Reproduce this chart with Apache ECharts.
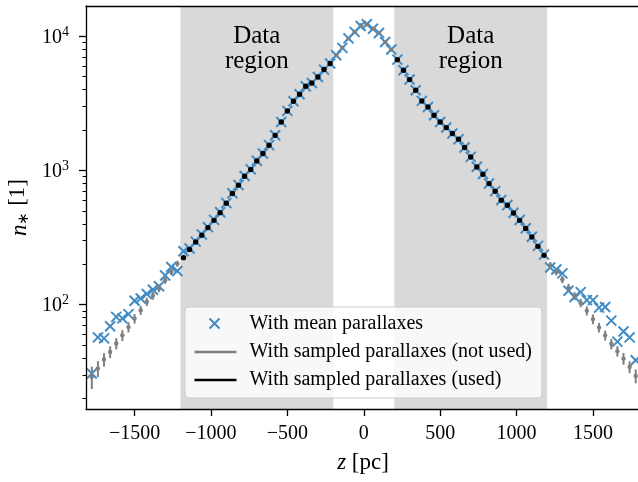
<!DOCTYPE html>
<html><head><meta charset="utf-8">
<script src="https://cdn.jsdelivr.net/npm/echarts@6/dist/echarts.min.js"></script>
<style>html,body{margin:0;padding:0;background:#fff}#c{width:638px;height:482px}</style>
</head><body><div id="c"></div>
<script>
// bin centres z [pc]
const zCenters = [
-1780,-1740,-1700,-1660,-1620,-1580,-1540,-1500,-1460,-1420,-1380,-1340,-1300,-1260,-1220,
-1180,-1140,-1100,-1060,-1020,-980,-940,-900,-860,-820,-780,-740,-700,-660,-620,
-580,-540,-500,-460,-420,-380,-340,-300,-260,-220,-180,-140,-100,-60,-20,
20,60,100,140,180,220,260,300,340,380,420,460,500,540,580,
620,660,700,740,780,820,860,900,940,980,1020,1060,1100,1140,1180,
1220,1260,1300,1340,1380,1420,1460,1500,1540,1580,1620,1660,1700,1740,1780];
// counts with mean parallaxes (crosses)
const meanCounts = [
30.7,57,56,69,81,79,85,107,111,120,129,137,165,191,178,
250,262,295,333,378,428,488,572,676,780,910,1020,1180,1340,1545,
1830,2300,2780,3280,3700,4245,4490,4980,5650,6270,7220,8200,9650,10800,11950,
12300,11400,10600,9080,7970,6700,5590,4760,3965,3300,2975,2580,2300,2090,1886,
1710,1485,1263,1065,940,800,702,602,553,484,427,371,321,274,236,
189,183,171,127,114,124,108,108,95,96,76,53,63,57,38.5];
// counts with sampled parallaxes
const sampledCounts = [
29,33.4,39,44.4,51.3,59,68,78.7,90.8,105,117,132,152,175,202,
224,258,293,329,375,425,485,570,673,777,906,1016,1178,1337,1542,
1828,2297,2775,3279,3698,4240,4488,4978,5652,6266,7218,8236,9613,10770,12080,
12280,11410,10580,9075,7960,6700,5580,4757,3960,3297,2972,2577,2298,2088,1884,
1708,1482,1261,1062,937,798,700,600,551,482,425,369,319,272,233,
197,175,154,134,116,103,90,78,67.5,59,51,45,39.6,34.3,29.4];
// uncertainty of sampled counts
const sampledErr = [
5.5,4.5,4.5,4.5,5,5.5,6,6.5,7,7.5,8,8.5,9,10,10.5,
7,7,8,8,9,10,11,12,13,14,15,16,18,19,21,
23,25,28,30,32,35,37,39,42,44,48,52,57,61,65,
65,62,58,52,47,43,39,36,33,30,28,26,24,22,20,
18,16,15,13,12,11,10,9,8.5,8,7.5,7,6.5,6,6,
11,10,9.5,9,8,7.5,7,6.5,5.5,5,4.5,4,4,3.5,3.5];
const dataRegions = [[-1200,-200],[200,1200]];
const xTicks = [-1500,-1000,-500,0,500,1000,1500];
const yDecades = [2,3,4];
const yMinorValues = [20,30,40,50,60,70,80,90,200,300,400,500,600,700,800,900,2000,3000,4000,5000,6000,7000,8000,9000];

const BLUE = '#428cc6', GRAY = '#808080', BLACK = '#000000';
const FONT = '"Liberation Serif","Times New Roman",serif';
const L = Math.log10;
const inRegion = z => dataRegions.some(r => z > r[0] && z < r[1]);

const crossData = zCenters.map((z,i) => [z, L(meanCounts[i])]);
const usedData = [], unusedData = [];
zCenters.forEach((z,i) => {
  const v = sampledCounts[i], e = sampledErr[i];
  const row = [z, L(v), L(v - e), L(v + e)];
  (inRegion(z) ? usedData : unusedData).push(row);
});

function errRender(color, r) {
  return function(params, api) {
    const c = api.coord([api.value(0), api.value(1)]);
    const lo = api.coord([api.value(0), api.value(2)]);
    const hi = api.coord([api.value(0), api.value(3)]);
    return {type:'group', children:[
      {type:'line', shape:{x1:lo[0], y1:lo[1], x2:hi[0], y2:hi[1]}, style:{stroke:color, lineWidth:2}},
      {type:'circle', shape:{cx:c[0], cy:c[1], r:r}, style:{fill:color}}
    ]};
  };
}

const chart = echarts.init(document.getElementById('c'), null, {renderer:'canvas'});
const yMin = 1.222, yMax = 4.226;
chart.setOption({
  animation:false,
  backgroundColor:'#ffffff',
  textStyle:{fontFamily:FONT, color:'#000'},
  grid:{left:86, right:-2, top:6, bottom:73, containLabel:false, outerBoundsMode:'none'},
  legend:{
    orient:'vertical', left:185, top:307,
    padding:[6,10,8,5], itemGap:8,
    itemWidth:52, itemHeight:16, symbolKeepAspect:true,
    backgroundColor:'rgba(255,255,255,0.8)', borderColor:'#cccccc', borderWidth:1, borderRadius:4,
    textStyle:{fontFamily:FONT, fontSize:20, color:'#000'},
    selectedMode:false,
    data:[
      {name:'With mean parallaxes', icon:'path://M0,0M52,16M17,3L27,13M27,3L17,13',
       itemStyle:{color:'none', borderColor:BLUE, borderWidth:2}},
      {name:'With sampled parallaxes (not used)', icon:'path://M0,0M52,16M2,6.8H44V9.2H2Z',
       itemStyle:{color:GRAY, borderWidth:0}},
      {name:'With sampled parallaxes (used)', icon:'path://M0,0M52,16M2,6.8H44V9.2H2Z',
       itemStyle:{color:BLACK, borderWidth:0}}
    ]
  },
  xAxis:[{
    type:'value', min:-1818, max:1808, z:5,
    name:'{i|z} [pc]', nameLocation:'middle', nameGap:42,
    nameTextStyle:{fontFamily:FONT, fontSize:23, color:'#000',
      rich:{i:{fontFamily:FONT, fontSize:23, fontStyle:'italic'}}},
    axisLine:{show:true, onZero:false, lineStyle:{color:'#000', width:1.3}},
    axisTick:{show:true, length:7, lineStyle:{color:'#000', width:1.3}, customValues:xTicks},
    axisLabel:{show:true, margin:15, fontFamily:FONT, fontSize:20, color:'#000', customValues:xTicks,
      formatter: v => v < 0 ? '\u2212' + Math.abs(v) : String(v)},
    splitLine:{show:false}
  },{
    type:'value', position:'top', min:-1818, max:1808, z:5,
    axisLine:{show:true, onZero:false, lineStyle:{color:'#000', width:1.3}},
    axisTick:{show:false}, axisLabel:{show:false}, splitLine:{show:false}
  }],
  yAxis:[{
    type:'value', min:yMin, max:yMax, z:5,
    name:'{i|n}{s|\u2217} [1]', nameLocation:'middle', nameGap:54, nameRotate:90,
    nameTextStyle:{fontFamily:FONT, fontSize:23, color:'#000',
      rich:{i:{fontFamily:FONT, fontSize:23, fontStyle:'italic', verticalAlign:'bottom', lineHeight:26},
            s:{fontFamily:FONT, fontSize:15, verticalAlign:'bottom', lineHeight:15}}},
    axisLine:{show:true, onZero:false, lineStyle:{color:'#000', width:1.3}},
    axisTick:{show:true, length:7, lineStyle:{color:'#000', width:1.3}, customValues:yDecades},
    axisLabel:{show:true, margin:17, customValues:yDecades,
      formatter: v => '{b|10}{s|' + v + '}',
      rich:{b:{fontFamily:FONT, fontSize:20, color:'#000', lineHeight:22, verticalAlign:'bottom'},
            s:{fontFamily:FONT, fontSize:14, color:'#000', lineHeight:14, verticalAlign:'top'}}},
    splitLine:{show:false}
  },{
    type:'value', min:yMin, max:yMax, z:5, position:'left',
    axisLine:{show:false, onZero:false},
    axisTick:{show:true, length:3.5, lineStyle:{color:'#000', width:1}, customValues:yMinorValues.map(L)},
    axisLabel:{show:false}, splitLine:{show:false}
  }],
  series:[
    {
      type:'custom', name:'regions', z:1, silent:true,
      data:dataRegions, encode:{x:[0,1]}, clip:true,
      renderItem(params, api){
        const cs = params.coordSys;
        const a = api.coord([api.value(0), yMax]);
        const b = api.coord([api.value(1), yMax]);
        return {type:'group', children:[
          {type:'rect', shape:{x:a[0], y:cs.y, width:b[0]-a[0], height:cs.height}, style:{fill:'#d9d9d9'}},
          {type:'text', style:{text:'Data\nregion', x:(a[0]+b[0])/2, y:cs.y + 18, align:'center', verticalAlign:'top',
            font:'25px ' + FONT, lineHeight:25, fill:'#000'}}
        ]};
      }
    },
    {
      type:'custom', name:'With mean parallaxes', z:3, clip:true,
      data:crossData, encode:{x:0, y:1},
      itemStyle:{color:BLUE},
      renderItem(params, api){
        const p = api.coord([api.value(0), api.value(1)]);
        const s = 5;
        return {type:'group', children:[
          {type:'line', shape:{x1:p[0]-s, y1:p[1]-s, x2:p[0]+s, y2:p[1]+s}, style:{stroke:BLUE, lineWidth:2}},
          {type:'line', shape:{x1:p[0]-s, y1:p[1]+s, x2:p[0]+s, y2:p[1]-s}, style:{stroke:BLUE, lineWidth:2}}
        ]};
      }
    },
    {
      type:'custom', name:'With sampled parallaxes (not used)', z:4, clip:true,
      data:unusedData, encode:{x:0, y:1}, itemStyle:{color:GRAY},
      renderItem: errRender(GRAY, 2.2)
    },
    {
      type:'custom', name:'With sampled parallaxes (used)', z:4, clip:true,
      data:usedData, encode:{x:0, y:1}, itemStyle:{color:BLACK},
      renderItem: errRender(BLACK, 2.7)
    }
  ]
});
</script></body></html>
